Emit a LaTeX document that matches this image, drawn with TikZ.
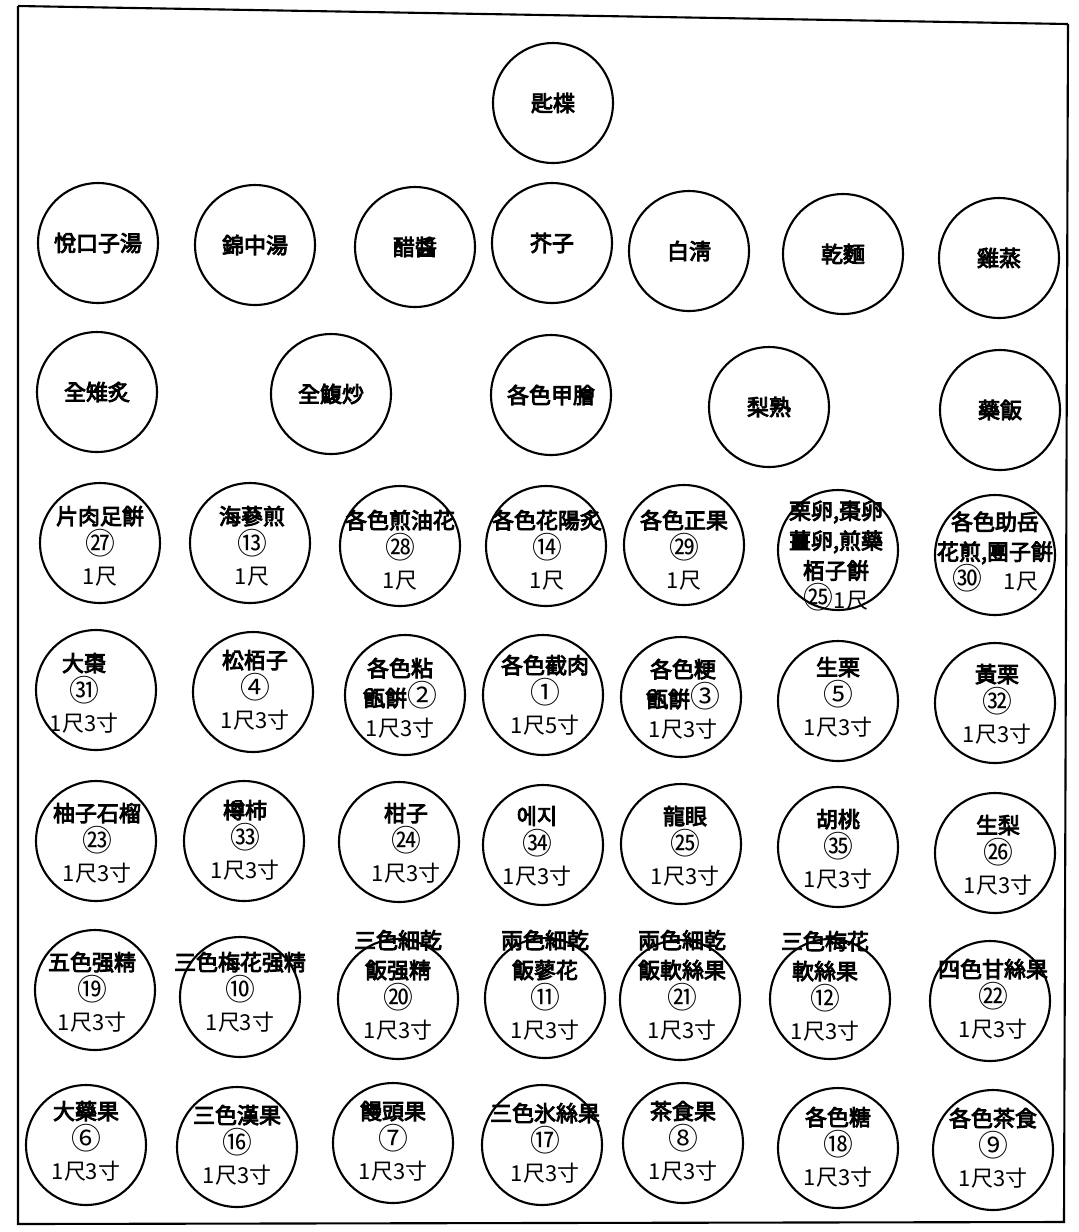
\documentclass[tikz,border=0pt]{standalone}
\usepackage{fontspec}
\newfontfamily\cjk{Noto Sans CJK KR}
\newfontfamily\cjkname{Noto Sans CJK KR}[FakeBold=4]
\newcommand{\circno}[1]{{\cjk\fontsize{17}{17}\selectfont #1}}
\usepackage{tikz}

\begin{document}
\begin{tikzpicture}[
    x=0.02cm, y=-0.02cm,
    plate/.style={draw=black, circle, minimum size=2.4cm, inner sep=0pt, line width=1.2pt},
    dish/.style={font=\cjkname\fontsize{12.5}{17}\selectfont, align=center, inner sep=0pt},
    frameline/.style={draw=black, line width=1.2pt}
]
\useasboundingbox (0,0) rectangle (1079,1232);

% outer frame
\draw[frameline] (18,6) -- (1068,24);
\draw[frameline] (18,6) -- (18,1224) -- (1064,1222) -- (1068,24);

% top
\node[plate] (ssi) at (553,103) {};
\node[dish] at (ssi) {匙楪};

% first row
\node[plate] (yeol) at (98,243) {};
\node[plate] (geum) at (255,245) {};
\node[plate] (cho) at (415,247) {};
\node[plate] (gyeo) at (552,243) {};
\node[plate] (baek) at (689,251) {};
\node[plate] (geon) at (843,254) {};
\node[plate] (gye) at (999,258) {};
\node[dish] at (yeol) {悅口子湯};
\node[dish] at (geum) {錦中湯};
\node[dish] at (cho) {醋醬};
\node[dish] at (gyeo) {芥子};
\node[dish] at (baek) {白淸};
\node[dish] at (geon) {乾麵};
\node[dish] at (gye) {雞蒸};

% second row
\node[plate] (jeonchi) at (97,392) {};
\node[plate] (jeonbok) at (331,394) {};
\node[plate] (gaphoe) at (551,395) {};
\node[plate] (isuk) at (769,407) {};
\node[plate] (yakban) at (1000,410) {};
\node[dish] at (jeonchi) {全雉炙};
\node[dish] at (jeonbok) {全鰒炒};
\node[dish] at (gaphoe) {各色甲膾};
\node[dish] at (isuk) {梨熟};
\node[dish] at (yakban) {藥飯};

% third row
\node[plate] (n27) at (100,543) {};
\node[plate] (n13) at (250,543) {};
\node[plate] (n28) at (400,546) {};
\node[plate] (n14) at (546,546) {};
\node[plate] (n29) at (684,545) {};
\node[plate] (n25a) at (838,550) {};
\node[plate] (n30) at (995,555) {};
\node[dish] at (100,546) {片肉足餠\\\circno{㉗}\\\cjk 1尺};
\node[dish] at (252,546) {海蔘煎\\\circno{⑬}\\\cjk 1尺};
\node[dish] at (400,550) {各色煎油花\\\circno{㉘}\\\cjk 1尺};
\node[dish] at (547,550) {各色花陽炙\\\circno{⑭}\\\cjk 1尺};
\node[dish] at (684,550) {各色正果\\\circno{㉙}\\\cjk 1尺};
\node[dish] at (836,556) {栗卵,棗卵\\薑卵,煎藥\\栢子餠\\\circno{㉕}\cjk 1尺};
\node[dish] at (995,552) {各色助岳\\花煎,團子餠\\\circno{㉚}\quad\cjk 1尺};

% fourth row
\node[plate] (n31) at (96,690) {};
\node[plate] (n4) at (253,692) {};
\node[plate] (n2) at (405,695) {};
\node[plate] (n1) at (543,695) {};
\node[plate] (n3) at (681,697) {};
\node[plate] (n5) at (838,701) {};
\node[plate] (n32) at (995,703) {};
\node[dish] at (84,693) {大棗\\\circno{㉛}\\\cjk 1尺3寸};
\node[dish] at (255,690) {松栢子\\\circno{④}\\\cjk 1尺3寸};
\node[dish] at (400,698) {各色粘\\甑餠\circno{②}\\\cjk 1尺3寸};
\node[dish] at (545,695) {各色截肉\\\circno{①}\\\cjk 1尺5寸};
\node[dish] at (683,699) {各色粳\\甑餠\circno{③}\\\cjk 1尺3寸};
\node[dish] at (838,697) {生栗\\\circno{⑤}\\\cjk 1尺3寸};
\node[dish] at (997,704) {黃栗\\\circno{㉜}\\\cjk 1尺3寸};

% fifth row
\node[plate] (n23) at (96,841) {};
\node[plate] (n33) at (244,841) {};
\node[plate] (n24) at (399,842) {};
\node[plate] (n34) at (543,845) {};
\node[plate] (n25) at (681,844) {};
\node[plate] (n35) at (838,847) {};
\node[plate] (n26) at (995,853) {};
\node[dish] at (97,843) {柚子石榴\\\circno{㉓}\\\cjk 1尺3寸};
\node[dish] at (245,840) {樽柿\\\circno{㉝}\\\cjk 1尺3寸};
\node[dish] at (406,843) {柑子\\\circno{㉔}\\\cjk 1尺3寸};
\node[dish] at (537,846) {에지\\\circno{㉞}\\\cjk 1尺3寸};
\node[dish] at (685,846) {龍眼\\\circno{㉕}\\\cjk 1尺3寸};
\node[dish] at (838,849) {胡桃\\\circno{㉟}\\\cjk 1尺3寸};
\node[dish] at (998,855) {生梨\\\circno{㉖}\\\cjk 1尺3寸};

% sixth row
\node[plate] (n19) at (95,990) {};
\node[plate] (n10) at (240,997) {};
\node[plate] (n20) at (398,999) {};
\node[plate] (n11) at (545,998) {};
\node[plate] (n21) at (680,1000) {};
\node[plate] (n12) at (830,999) {};
\node[plate] (n22) at (990,1001) {};
\node[dish] at (92,992) {五色强精\\\circno{⑲}\\\cjk 1尺3寸};
\node[dish] at (240,992) {三色梅花强精\\\circno{⑩}\\\cjk 1尺3寸};
\node[dish] at (398,985) {三色細乾\\飯强精\\\circno{⑳}\\\cjk 1尺3寸};
\node[dish] at (545,985) {兩色細乾\\飯蓼花\\\circno{⑪}\\\cjk 1尺3寸};
\node[dish] at (682,985) {兩色細乾\\飯軟絲果\\\circno{㉑}\\\cjk 1尺3寸};
\node[dish] at (825,986) {三色梅花\\軟絲果\\\circno{⑫}\\\cjk 1尺3寸};
\node[dish] at (993,999) {四色甘絲果\\\circno{㉒}\\\cjk 1尺3寸};

% seventh row
\node[plate] (n6) at (86,1145) {};
\node[plate] (n16) at (237,1147) {};
\node[plate] (n7) at (393,1143) {};
\node[plate] (n17) at (542,1145) {};
\node[plate] (n8) at (683,1143) {};
\node[plate] (n18) at (838,1148) {};
\node[plate] (n9) at (993,1150) {};
\node[dish] at (86,1141) {大藥果\\\circno{⑥}\\\cjk 1尺3寸};
\node[dish] at (237,1145) {三色漢果\\\circno{⑯}\\\cjk 1尺3寸};
\node[dish] at (393,1141) {饅頭果\\\circno{⑦}\\\cjk 1尺3寸};
\node[dish] at (545,1143) {三色氷絲果\\\circno{⑰}\\\cjk 1尺3寸};
\node[dish] at (683,1141) {茶食果\\\circno{⑧}\\\cjk 1尺3寸};
\node[dish] at (838,1147) {各色糖\\\circno{⑱}\\\cjk 1尺3寸};
\node[dish] at (993,1148) {各色茶食\\\circno{⑨}\\\cjk 1尺3寸};

\end{tikzpicture}
\end{document}
